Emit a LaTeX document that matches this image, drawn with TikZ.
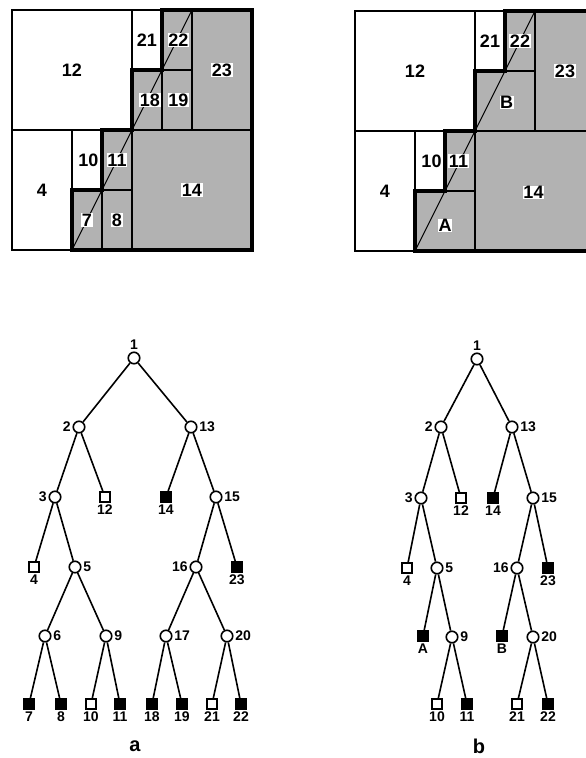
\documentclass[tikz,border=0pt]{standalone}
\usepackage{fontspec}
\setmainfont{Liberation Sans}
\usetikzlibrary{positioning}
\definecolor{stipple}{gray}{0.7}

\begin{document}
\begin{tikzpicture}[x=1pt, y=-1pt, on grid,
    cutnode/.style={circle, draw, line width=1.6pt, fill=white, minimum size=11.5pt, inner sep=0pt},
    openleaf/.style={rectangle, draw, line width=1.6pt, fill=white, minimum size=10.5pt, inner sep=0pt},
    fullleaf/.style={openleaf, fill=black},
    branch/.style={line width=1.6pt},
    every label/.style={font=\fontsize{14}{14}\selectfont\bfseries, inner sep=1.5pt},
    cell/.style={font=\fontsize{18}{18}\selectfont\bfseries, inner sep=0.5pt},
    dark/.style={cell, fill=white},
    thinline/.style={line width=1.1pt},
    outline/.style={line width=1.7pt},
    stair/.style={line width=3.2pt, line join=miter},
    caption/.style={font=\fontsize{20}{20}\selectfont\bfseries}]

    \useasboundingbox (0,0) rectangle (586,758);
    \clip (0,0) rectangle (586,758);

    % square a
    \begin{scope}[shift={(12,250)}, x=30pt, y=30pt]
        \fill[stipple] (2,0) -- (2,2) -- (3,2) -- (3,4) -- (4,4) -- (4,6) -- (5,6) -- (5,8) -- (8,8) -- (8,0) -- cycle;
        \draw[thinline] (0,4) -- (8,4) (4,0) -- (4,8) (2,0) -- (2,4) (3,0) -- (3,4) (2,2) -- (4,2)
            (4,6) -- (6,6) (5,4) -- (5,8) (6,4) -- (6,8);
        \draw[thinline] (2,0) -- (6,8);
        \draw[outline] (0,0) rectangle (8,8);
        \draw[stair] (2,0) -- (2,2) -- (3,2) -- (3,4) -- (4,4) -- (4,6) -- (5,6) -- (5,8) -- (8,8) -- (8,0) -- cycle;
        \node[cell] (a12) at (2,6) {12};
        \node[cell] (a21) at (4.5,7) {21};
        \node[dark] (a22) at (5.55,7) {22};
        \node[dark] (a23) at (7,6) {23};
        \node[dark] (a18) at (4.6,5) {18};
        \node[dark] (a19) at (5.55,5) {19};
        \node[cell] (a4) at (1,2) {4};
        \node[cell] (a10) at (2.55,3) {10};
        \node[dark] (a11) at (3.5,3) {11};
        \node[dark] (a7) at (2.5,1) {7};
        \node[dark] (a8) at (3.5,1) {8};
        \node[dark] (a14) at (6,2) {14};
    \end{scope}

    % square b
    \begin{scope}[shift={(355,251)}, x=30pt, y=30pt]
        \fill[stipple] (2,0) -- (2,2) -- (3,2) -- (3,4) -- (4,4) -- (4,6) -- (5,6) -- (5,8) -- (8,8) -- (8,0) -- cycle;
        \draw[thinline] (0,4) -- (8,4) (4,0) -- (4,8) (2,0) -- (2,4) (3,2) -- (3,4) (2,2) -- (4,2)
            (4,6) -- (6,6) (5,6) -- (5,8) (6,4) -- (6,8);
        \draw[thinline] (2,0) -- (6,8);
        \draw[outline] (0,0) rectangle (8,8);
        \draw[stair] (2,0) -- (2,2) -- (3,2) -- (3,4) -- (4,4) -- (4,6) -- (5,6) -- (5,8) -- (8,8) -- (8,0) -- cycle;
        \node[cell] (b12) at (2,6) {12};
        \node[cell] (b21) at (4.5,7) {21};
        \node[dark] (b22) at (5.5,7) {22};
        \node[dark] (b23) at (7,6) {23};
        \node[dark] (bB) at (5.05,4.95) {B};
        \node[cell] (b4) at (1,2) {4};
        \node[cell] (b10) at (2.55,3) {10};
        \node[dark] (b11) at (3.45,3) {11};
        \node[dark] (bA) at (3,0.85) {A};
        \node[dark] (b14) at (5.95,1.95) {14};
    \end{scope}

    % tree a
    \node[cutnode, label=above:1] (ta1) at (134,358) {};
    \node[cutnode, label=left:2, below left=69pt and 55pt of ta1] (ta2) {};
    \node[cutnode, label=right:13, below right=69pt and 57pt of ta1] (ta13) {};
    \node[cutnode, label=left:3, below left=70pt and 24pt of ta2] (ta3) {};
    \node[openleaf, label=below:12, below right=70pt and 26pt of ta2] (ta12) {};
    \node[fullleaf, label=below:14, below left=70pt and 25pt of ta13] (ta14) {};
    \node[cutnode, label=right:15, below right=70pt and 25pt of ta13] (ta15) {};
    \node[openleaf, label=below:4, below left=70pt and 21pt of ta3] (ta4) {};
    \node[cutnode, label=right:5, below right=70pt and 20pt of ta3] (ta5) {};
    \node[cutnode, label=left:16, below left=70pt and 20pt of ta15] (ta16) {};
    \node[fullleaf, label=below:23, below right=70pt and 21pt of ta15] (ta23) {};
    \node[cutnode, label=right:6, below left=69pt and 30pt of ta5] (ta6) {};
    \node[cutnode, label=right:9, below right=69pt and 31pt of ta5] (ta9) {};
    \node[cutnode, label=right:17, below left=69pt and 30pt of ta16] (ta17) {};
    \node[cutnode, label=right:20, below right=69pt and 31pt of ta16] (ta20) {};
    \node[fullleaf, label=below:7, below left=68pt and 16pt of ta6] (ta7) {};
    \node[fullleaf, label=below:8, below right=68pt and 16pt of ta6] (ta8) {};
    \node[openleaf, label=below:10, below left=68pt and 15pt of ta9] (ta10) {};
    \node[fullleaf, label=below:11, below right=68pt and 14pt of ta9] (ta11) {};
    \node[fullleaf, label=below:18, below left=68pt and 14pt of ta17] (ta18) {};
    \node[fullleaf, label=below:19, below right=68pt and 16pt of ta17] (ta19) {};
    \node[openleaf, label=below:21, below left=68pt and 15pt of ta20] (ta21) {};
    \node[fullleaf, label=below:22, below right=68pt and 14pt of ta20] (ta22) {};
    \node[caption] (capa) at (135,746) {a};

    \draw[branch] (ta1) -- (ta2) (ta1) -- (ta13) (ta2) -- (ta3) (ta2) -- (ta12)
        (ta13) -- (ta14) (ta13) -- (ta15) (ta3) -- (ta4) (ta3) -- (ta5)
        (ta15) -- (ta16) (ta15) -- (ta23) (ta5) -- (ta6) (ta5) -- (ta9)
        (ta16) -- (ta17) (ta16) -- (ta20) (ta6) -- (ta7) (ta6) -- (ta8)
        (ta9) -- (ta10) (ta9) -- (ta11) (ta17) -- (ta18) (ta17) -- (ta19)
        (ta20) -- (ta21) (ta20) -- (ta22);

    % tree b
    \node[cutnode, label=above:1] (tb1) at (477,359) {};
    \node[cutnode, label=left:2, below left=68pt and 36pt of tb1] (tb2) {};
    \node[cutnode, label=right:13, below right=68pt and 35pt of tb1] (tb13) {};
    \node[cutnode, label=left:3, below left=71pt and 20pt of tb2] (tb3) {};
    \node[openleaf, label=below:12, below right=71pt and 20pt of tb2] (tb12) {};
    \node[fullleaf, label=below:14, below left=71pt and 19pt of tb13] (tb14) {};
    \node[cutnode, label=right:15, below right=71pt and 21pt of tb13] (tb15) {};
    \node[openleaf, label=below:4, below left=70pt and 14pt of tb3] (tb4) {};
    \node[cutnode, label=right:5, below right=70pt and 16pt of tb3] (tb5) {};
    \node[cutnode, label=left:16, below left=70pt and 16pt of tb15] (tb16) {};
    \node[fullleaf, label=below:23, below right=70pt and 15pt of tb15] (tb23) {};
    \node[fullleaf, label=below:A, below left=68pt and 14pt of tb5] (tbA) {};
    \node[cutnode, label=right:9, below right=69pt and 15pt of tb5] (tb9) {};
    \node[fullleaf, label=below:B, below left=68pt and 15pt of tb16] (tbB) {};
    \node[cutnode, label=right:20, below right=69pt and 16pt of tb16] (tb20) {};
    \node[openleaf, label=below:10, below left=67pt and 15pt of tb9] (tb10) {};
    \node[fullleaf, label=below:11, below right=67pt and 15pt of tb9] (tb11) {};
    \node[openleaf, label=below:21, below left=67pt and 16pt of tb20] (tb21) {};
    \node[fullleaf, label=below:22, below right=67pt and 15pt of tb20] (tb22) {};
    \node[caption] (capb) at (479,746) {b};

    \draw[branch] (tb1) -- (tb2) (tb1) -- (tb13) (tb2) -- (tb3) (tb2) -- (tb12)
        (tb13) -- (tb14) (tb13) -- (tb15) (tb3) -- (tb4) (tb3) -- (tb5)
        (tb15) -- (tb16) (tb15) -- (tb23) (tb5) -- (tbA) (tb5) -- (tb9)
        (tb16) -- (tbB) (tb16) -- (tb20) (tb9) -- (tb10) (tb9) -- (tb11)
        (tb20) -- (tb21) (tb20) -- (tb22);

\end{tikzpicture}
\end{document}
